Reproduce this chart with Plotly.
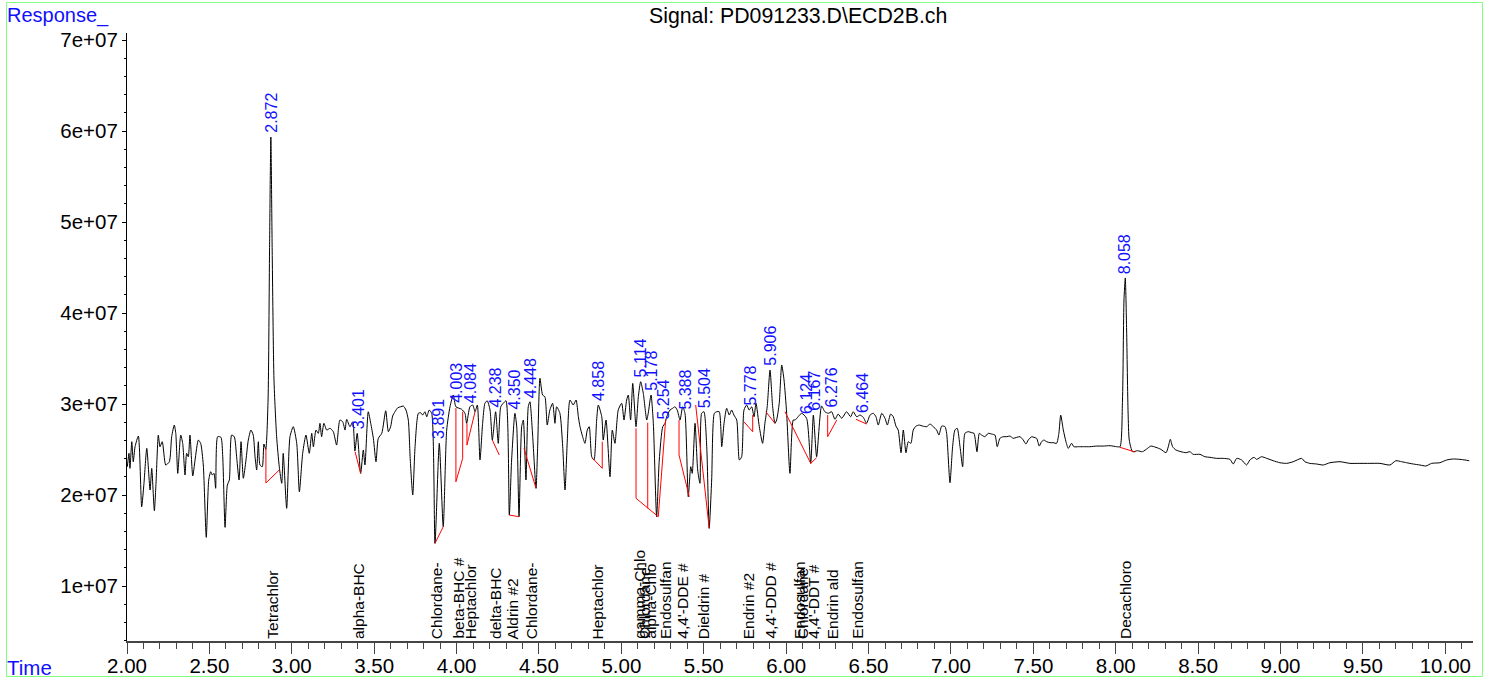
import numpy as np
import plotly.graph_objects as go

# ---------------- data ----------------
time_min = [
    2.002, 2.012, 2.018, 2.029, 2.038, 2.049, 2.069, 2.089, 2.103, 2.120, 2.140, 2.150, 2.166, 2.176,
    2.190, 2.200, 2.214, 2.235, 2.257, 2.271, 2.287, 2.296, 2.308, 2.326, 2.338, 2.352, 2.362, 2.372,
    2.382, 2.399, 2.413, 2.433, 2.447, 2.463, 2.481, 2.496, 2.508, 2.518, 2.528, 2.538, 2.550, 2.570,
    2.581, 2.595, 2.609, 2.621, 2.635, 2.651, 2.666, 2.680, 2.692, 2.706, 2.722, 2.736, 2.752, 2.766,
    2.777, 2.787, 2.797, 2.807, 2.821, 2.831, 2.842, 2.856, 2.865, 2.873, 2.881, 2.892, 2.908, 2.924,
    2.939, 2.948, 2.969, 2.989, 3.009, 3.030, 3.046, 3.066, 3.086, 3.106, 3.121, 3.131, 3.147, 3.161,
    3.171, 3.181, 3.195, 3.212, 3.232, 3.252, 3.272, 3.292, 3.309, 3.323, 3.333, 3.353, 3.370, 3.383,
    3.397, 3.418, 3.434, 3.444, 3.464, 3.479, 3.495, 3.511, 3.525, 3.546, 3.570, 3.586, 3.600, 3.612,
    3.626, 3.643, 3.661, 3.677, 3.693, 3.707, 3.719, 3.734, 3.748, 3.768, 3.782, 3.794, 3.808, 3.819,
    3.834, 3.849, 3.869, 3.895, 3.919, 3.940, 3.960, 3.980, 3.996, 4.031, 4.051, 4.061, 4.081, 4.098,
    4.112, 4.126, 4.142, 4.158, 4.172, 4.186, 4.203, 4.217, 4.237, 4.253, 4.268, 4.283, 4.300, 4.320,
    4.334, 4.354, 4.365, 4.379, 4.395, 4.405, 4.421, 4.435, 4.445, 4.462, 4.482, 4.492, 4.506, 4.522,
    4.536, 4.550, 4.566, 4.583, 4.597, 4.607, 4.627, 4.644, 4.658, 4.672, 4.688, 4.708, 4.725, 4.739,
    4.749, 4.765, 4.779, 4.793, 4.805, 4.820, 4.834, 4.850, 4.860, 4.881, 4.890, 4.907, 4.931, 4.945,
    4.961, 4.981, 5.002, 5.016, 5.032, 5.042, 5.056, 5.069, 5.089, 5.103, 5.117, 5.133, 5.154, 5.163,
    5.180, 5.194, 5.214, 5.230, 5.251, 5.265, 5.275, 5.295, 5.311, 5.325, 5.339, 5.356, 5.372, 5.386,
    5.406, 5.421, 5.430, 5.447, 5.463, 5.477, 5.487, 5.501, 5.518, 5.533, 5.548, 5.564, 5.578, 5.594,
    5.609, 5.623, 5.639, 5.655, 5.669, 5.683, 5.700, 5.716, 5.730, 5.744, 5.760, 5.776, 5.791, 5.805,
    5.817, 5.837, 5.857, 5.871, 5.885, 5.902, 5.918, 5.932, 5.942, 5.958, 5.973, 5.987, 6.003, 6.023,
    6.043, 6.054, 6.094, 6.124, 6.149, 6.165, 6.185, 6.215, 6.235, 6.256, 6.276, 6.296, 6.316, 6.337,
    6.367, 6.391, 6.407, 6.428, 6.448, 6.468, 6.488, 6.509, 6.529, 6.545, 6.559, 6.580, 6.600, 6.614,
    6.634, 6.650, 6.666, 6.680, 6.697, 6.711, 6.727, 6.741, 6.757, 6.771, 6.788, 6.808, 6.828, 6.853,
    6.873, 6.893, 6.913, 6.927, 6.944, 6.964, 6.974, 6.994, 7.010, 7.024, 7.038, 7.055, 7.071, 7.085,
    7.105, 7.126, 7.140, 7.158, 7.172, 7.186, 7.206, 7.226, 7.247, 7.267, 7.281, 7.297, 7.317, 7.338,
    7.358, 7.378, 7.399, 7.419, 7.439, 7.455, 7.469, 7.490, 7.504, 7.520, 7.536, 7.550, 7.564, 7.581,
    7.601, 7.621, 7.641, 7.655, 7.666, 7.682, 7.698, 7.712, 7.732, 7.746, 7.773, 7.803, 7.843, 7.884,
    7.924, 7.965, 8.006, 8.026, 8.041, 8.050, 8.058, 8.066, 8.075, 8.082, 8.102, 8.132, 8.162, 8.193,
    8.213, 8.244, 8.274, 8.305, 8.319, 8.331, 8.345, 8.365, 8.396, 8.426, 8.450, 8.470, 8.511, 8.541,
    8.572, 8.612, 8.652, 8.693, 8.713, 8.734, 8.764, 8.794, 8.814, 8.839, 8.855, 8.885, 8.916, 8.956,
    8.996, 9.037, 9.077, 9.128, 9.148, 9.178, 9.219, 9.259, 9.300, 9.361, 9.421, 9.482, 9.542, 9.603,
    9.664, 9.700, 9.735, 9.765, 9.805, 9.846, 9.882, 9.917, 9.967, 10.008, 10.048, 10.089, 10.119, 10.145,
]

response_millions = [
    23.11, 24.58, 22.93, 25.86, 23.66, 25.31, 26.48, 18.71, 21.29, 25.13, 20.55, 22.93, 18.27, 21.29,
    26.59, 25.31, 25.86, 23.30, 23.66, 26.41, 27.69, 26.78, 22.38, 26.59, 25.68, 22.20, 24.58, 24.21,
    26.59, 22.09, 23.85, 26.04, 25.68, 23.30, 15.35, 21.65, 22.56, 22.20, 22.38, 20.74, 26.41, 26.34,
    24.21, 16.45, 21.10, 21.65, 26.59, 26.41, 24.03, 21.65, 25.86, 21.84, 23.85, 26.04, 27.14, 26.59,
    24.21, 22.75, 25.86, 23.30, 23.11, 25.60, 25.02, 30.44, 46.92, 59.34, 46.92, 32.64, 26.41, 23.11,
    21.29, 24.58, 18.54, 26.41, 27.51, 25.68, 20.36, 24.58, 26.59, 24.58, 26.78, 25.31, 27.14, 26.78,
    27.88, 26.41, 27.88, 27.14, 27.33, 26.96, 25.49, 28.24, 28.05, 27.14, 28.32, 27.51, 28.05, 24.84,
    26.78, 22.38, 24.95, 23.30, 29.15, 27.88, 26.23, 23.66, 26.23, 26.78, 29.26, 26.96, 27.51, 28.68,
    29.15, 29.59, 29.70, 29.78, 29.34, 28.24, 23.85, 20.00, 25.31, 28.98, 29.04, 28.79, 29.15, 28.60,
    29.34, 28.98, 14.69, 25.68, 16.52, 27.14, 29.70, 30.99, 29.70, 29.42, 28.98, 27.88, 29.70, 29.89,
    29.15, 29.89, 23.85, 27.88, 30.08, 30.36, 29.34, 26.04, 29.15, 25.68, 29.70, 30.08, 30.36, 17.80,
    23.85, 28.98, 27.51, 17.62, 27.51, 28.24, 21.65, 29.70, 30.25, 26.41, 20.74, 25.31, 32.82, 30.99,
    30.80, 27.69, 29.34, 30.08, 27.88, 29.70, 28.98, 25.31, 20.55, 26.04, 30.44, 29.89, 30.44, 28.60,
    27.51, 26.41, 25.68, 27.14, 27.51, 24.21, 23.85, 28.24, 29.89, 28.60, 26.04, 28.24, 22.01, 27.14,
    25.68, 29.34, 30.08, 28.24, 30.44, 30.99, 28.24, 32.27, 27.51, 30.80, 32.45, 31.18, 28.24, 28.98,
    30.99, 27.88, 17.62, 23.85, 27.51, 27.88, 28.60, 29.34, 29.53, 29.70, 29.34, 28.24, 29.70, 28.98,
    19.81, 23.11, 22.38, 27.88, 22.75, 21.29, 28.98, 29.15, 25.31, 16.34, 21.65, 28.98, 29.15, 29.15,
    25.31, 27.88, 29.53, 28.79, 29.34, 28.79, 28.24, 23.85, 24.21, 29.34, 29.89, 29.34, 29.70, 28.60,
    30.08, 27.51, 25.68, 27.88, 29.70, 33.74, 29.70, 27.88, 28.24, 30.08, 34.29, 32.64, 28.98, 22.38,
    28.24, 28.24, 28.98, 28.43, 23.48, 28.79, 24.21, 29.78, 29.15, 28.98, 29.15, 28.32, 28.90, 28.43,
    29.15, 28.60, 29.15, 28.60, 28.79, 28.54, 27.88, 28.79, 28.98, 28.60, 27.69, 28.98, 28.43, 27.69,
    28.90, 28.60, 27.58, 27.14, 24.65, 27.14, 24.65, 25.86, 25.68, 27.14, 27.58, 27.69, 27.58, 27.51,
    27.80, 27.51, 27.14, 26.59, 27.58, 27.51, 26.78, 21.35, 25.31, 27.14, 27.33, 25.31, 23.11, 26.78,
    26.96, 26.85, 26.78, 24.76, 26.78, 26.59, 26.41, 26.78, 26.70, 26.59, 25.31, 26.23, 26.41, 26.41,
    26.48, 26.23, 26.34, 26.41, 26.04, 25.60, 26.04, 26.41, 26.34, 26.23, 25.38, 25.86, 26.04, 25.86,
    25.75, 25.75, 25.68, 26.78, 28.79, 27.14, 25.86, 25.13, 25.68, 25.31, 25.31, 25.31, 25.31, 25.38,
    25.38, 25.42, 25.31, 25.31, 30.44, 41.43, 43.85, 38.13, 29.00, 26.04, 24.76, 24.87, 24.76, 25.13,
    25.38, 25.24, 25.02, 24.65, 25.31, 26.12, 25.31, 24.95, 24.76, 24.65, 24.76, 24.47, 24.47, 24.21,
    24.14, 24.03, 24.03, 23.92, 23.41, 24.03, 23.85, 23.30, 23.85, 24.14, 23.92, 24.21, 24.03, 23.77,
    23.55, 23.48, 23.66, 24.03, 23.66, 23.48, 23.41, 23.30, 23.55, 23.66, 23.48, 23.48, 23.48, 23.48,
    23.30, 23.77, 23.66, 23.55, 23.41, 23.30, 23.19, 23.48, 23.55, 23.85, 23.96, 23.92, 23.85, 23.77,
]

peak_rt = [2.872, 3.401, 3.891, 4.003, 4.084, 4.238, 4.350, 4.448, 4.858, 5.114, 5.178,
           5.254, 5.388, 5.504, 5.778, 5.906, 6.124, 6.167, 6.276, 6.464, 8.058]
peak_labels = ["2.872", "3.401", "3.891", "4.003", "4.084", "4.238", "4.350", "4.448", "4.858",
               "5.114", "5.178", "5.254", "5.388", "5.504", "5.778", "5.906", "6.124", "6.167",
               "6.276", "6.464", "8.058"]

compound_rt = [2.878, 3.402, 3.879, 4.009, 4.086, 4.233, 4.342, 4.456, 4.858, 5.108, 5.140,
               5.175, 5.265, 5.366, 5.497, 5.770, 5.902, 6.078, 6.098, 6.165, 6.280, 6.428, 8.056]
compound_names = ["Tetrachlor", "alpha-BHC", "Chlordane-", "beta-BHC #", "Heptachlor",
                  "delta-BHC", "Aldrin #2", "Chlordane-", "Heptachlor", "gamma-Chlo",
                  "Chlordane-", "alpha-Chlo", "Endosulfan", "4,4'-DDE #", "Dieldrin #",
                  "Endrin #2", "4,4'-DDD #", "Endosulfan", "Chlordane", "4,4'-DDT #",
                  "Endrin ald", "Endosulfan", "Decachloro"]

# integration baselines (time, response in millions), one list per drawn segment
baseline_t = [
    [2.843, 2.843, 2.924],
    [3.384, 3.418],
    [3.869, 3.919],
    [3.996, 3.996, 4.037, 4.037],
    [4.063, 4.063, 4.112],
    [4.217, 4.259],
    [4.320, 4.379],
    [4.409, 4.482],
    [4.826, 4.884, 4.884],
    [5.089, 5.089, 5.224, 5.269],
    [5.160, 5.160],
    [5.350, 5.350, 5.412],
    [5.451, 5.533],
    [5.744, 5.797, 5.797],
    [5.877, 5.932],
    [5.993, 6.149, 6.185],
    [6.252, 6.252, 6.307],
    [6.424, 6.488],
    [8.026, 8.117],
]
baseline_v = [
    [25.16, 21.32, 22.75],
    [24.76, 22.38],
    [14.69, 16.52],
    [29.56, 21.46, 24.03, 29.15],
    [27.88, 25.49, 29.15],
    [26.04, 24.40],
    [17.80, 17.62],
    [25.13, 20.74],
    [24.03, 22.93, 25.86],
    [27.33, 19.64, 17.62, 28.33],
    [27.95, 18.54],
    [28.24, 24.40, 19.81],
    [29.89, 16.34],
    [28.05, 26.96, 28.79],
    [29.15, 27.88],
    [29.15, 23.48, 24.10],
    [28.79, 26.41, 28.24],
    [28.32, 27.80],
    [25.24, 24.73],
]

y_tick_values = [1e7, 2e7, 3e7, 4e7, 5e7, 6e7, 7e7]
y_tick_text = ["1e+07", "2e+07", "3e+07", "4e+07", "5e+07", "6e+07", "7e+07"]
x_tick_values = [2.0, 2.5, 3.0, 3.5, 4.0, 4.5, 5.0, 5.5, 6.0, 6.5, 7.0, 7.5, 8.0, 8.5, 9.0, 9.5, 10.0]

# ---------------- figure ----------------
M = 1e6
t = np.array(time_min)
resp = np.array(response_millions) * M

W, H = 1485, 679
ML, MR, MT, MB = 127, 12, 33, 38
PW, PH = W - ML - MR, H - MT - MB
FONT = "Liberation Sans, Arial, sans-serif"


def px_to_paper_x(px):
    return (px - ML) / PW


def px_to_paper_y(py):
    return (H - MB - py) / PH


def apex_height(rt, half_window=0.012):
    sel = np.abs(t - rt) <= half_window
    if sel.any():
        return float(resp[sel].max())
    return float(np.interp(rt, t, resp))


fig = go.Figure()
fig.add_trace(go.Scatter(x=t, y=resp, mode="lines",
                         line=dict(color="black", width=1, shape="spline", smoothing=0.6),
                         hoverinfo="skip"))

bx, by = [], []
for ts, vs in zip(baseline_t, baseline_v):
    bx += ts + [None]
    by += [v * M for v in vs] + [None]
fig.add_trace(go.Scatter(x=bx, y=by, mode="lines",
                         line=dict(color="red", width=1), hoverinfo="skip"))

annotations = []
for rt, lab in zip(peak_rt, peak_labels):
    annotations.append(dict(x=rt, y=apex_height(rt), xref="x", yref="y",
                            text=lab, showarrow=False, textangle=-90,
                            xanchor="center", yanchor="bottom", yshift=2,
                            font=dict(family=FONT, size=16, color="#1010ff")))
for rt, name in zip(compound_rt, compound_names):
    annotations.append(dict(x=rt, y=0, xref="x", yref="paper",
                            text=name, showarrow=False, textangle=-90,
                            xanchor="center", yanchor="bottom", yshift=0,
                            font=dict(family=FONT, size=15.5, color="black")))

annotations.append(dict(x=px_to_paper_x(5), y=px_to_paper_y(15), xref="paper", yref="paper",
                        text="Response_", showarrow=False, xanchor="left", yanchor="middle",
                        font=dict(family=FONT, size=20, color="#1010ff")))
annotations.append(dict(x=px_to_paper_x(5), y=px_to_paper_y(667), xref="paper", yref="paper",
                        text="Time", showarrow=False, xanchor="left", yanchor="middle",
                        font=dict(family=FONT, size=20.5, color="#1010ff")))
annotations.append(dict(x=px_to_paper_x(797.5), y=px_to_paper_y(16), xref="paper", yref="paper",
                        text="Signal: PD091233.D\\ECD2B.ch", showarrow=False,
                        xanchor="center", yanchor="middle",
                        font=dict(family=FONT, size=21.3, color="black")))

frame = dict(type="rect", xref="paper", yref="paper",
             x0=px_to_paper_x(6.5), x1=px_to_paper_x(1482.5),
             y0=px_to_paper_y(676.5), y1=px_to_paper_y(2.5),
             line=dict(color="#80ff80", width=1), fillcolor="rgba(0,0,0,0)", layer="above")

fig.update_layout(
    template="none",
    width=W, height=H, autosize=False,
    margin=dict(l=ML, r=MR, t=MT, b=MB, pad=0),
    paper_bgcolor="white", plot_bgcolor="white",
    showlegend=False,
    annotations=annotations,
    shapes=[frame],
    font=dict(family=FONT, size=20, color="black"),
    xaxis=dict(range=[2.0, 10.168], tickvals=x_tick_values, tickformat=".2f",
               ticks="outside", ticklen=11, tickwidth=1, tickcolor="#444",
               ticklabelstandoff=-5,
               minor=dict(dtick=0.1, tick0=2.0, ticks="outside", ticklen=6, tickcolor="#444"),
               showline=True, linecolor="#444", linewidth=1.5,
               showgrid=False, zeroline=False, automargin=False,
               tickfont=dict(family=FONT, size=20.5, color="black")),
    yaxis=dict(range=[3.96e6, 7.077e7], tickvals=y_tick_values, ticktext=y_tick_text,
               ticks="outside", ticklen=4, tickwidth=1, tickcolor="black",
               minor=dict(dtick=2e6, tick0=0, ticks="outside", ticklen=2, tickcolor="black"),
               showline=True, linecolor="black", linewidth=1,
               showgrid=False, zeroline=False, automargin=False,
               tickfont=dict(family=FONT, size=20.5, color="black")),
)

fig.write_html("out.html", config={"displayModeBar": False},
               post_script="document.body.style.margin='0';document.body.style.overflow='hidden';")
